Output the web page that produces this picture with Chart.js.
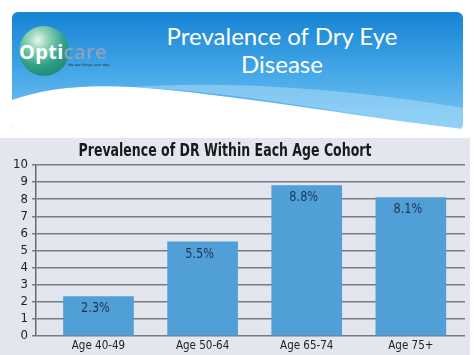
<!DOCTYPE html>
<html><head><meta charset="utf-8">
<script src="https://cdn.jsdelivr.net/npm/chart.js@4"></script>
<style>
html,body{margin:0;padding:0;background:#fff;width:474px;height:355px;overflow:hidden;position:relative}
#banner{position:absolute;left:12px;top:12px;width:451px;height:118px;border-radius:6px;overflow:hidden;
 background:linear-gradient(180deg,#1783d3 0%,#3ea3e6 45%,#7cc8f3 100%)}
#wave{position:absolute;left:0;top:0}
#title{position:absolute;left:140px;width:284px;top:22px;text-align:center;color:#fff;
 font-family:Lato,"Open Sans",sans-serif;font-size:24px;line-height:28px}
#logo{position:absolute;left:19px;top:26px;width:50px;height:50px;border-radius:50%;
 background:radial-gradient(circle at 38% 28%,#e6f7ef 0%,#8fd3b7 22%,#2f9f86 55%,#17776d 100%)}
#opti{position:absolute;left:19px;top:38px;font-family:"Open Sans",sans-serif;font-weight:700;font-size:20px;color:#fff;letter-spacing:0.3px}
#opti span{color:#8aa2bd;font-weight:600}
#tag{position:absolute;left:68px;top:63px;font-family:"DejaVu Sans",sans-serif;font-size:3.5px;color:#333}
#panel{position:absolute;left:0;top:138px;width:470px;height:217px;background:#e3e6ee}
#wrap{position:absolute;left:0;top:138px;width:474px;height:217px}
</style></head>
<body>
<div id="banner">
<svg id="wave" width="451" height="118" viewBox="0 0 451 118">
<path d="M110,76 C220,66 360,80 451,96 L451,118 C330,102 230,80 130,76 Z" fill="#a8dbf7" opacity="0.55"/>
<path d="M0,88 C30,77 70,72 120,75 C220,82 340,104 451,117 L451,118 L0,118 Z" fill="#ffffff"/>
</svg>
</div>
<div id="logo"></div>
<div id="opti">Opti<span>care</span></div>
<div id="tag">We see things your way</div>
<div id="title">Prevalence of Dry Eye<br>Disease</div>
<div id="panel"></div>
<div id="wrap"><canvas id="c" width="474" height="217"></canvas></div>
<script>
const categories = ["Age 40-49", "Age 50-64", "Age 65-74", "Age 75+"];
const prevalence = [2.3, 5.5, 8.8, 8.1];
const valueLabels = ["2.3%", "5.5%", "8.8%", "8.1%"];
const yTicks = [0,1,2,3,4,5,6,7,8,9,10];
const chartTitle = 'Prevalence of DR Within Each Age Cohort';

const narrow = '"Liberation Sans Narrow","DejaVu Sans Condensed","Arial Narrow",sans-serif';

const labelPlugin = {
  id: 'barLabels',
  afterDatasetsDraw(chart) {
    const ctx = chart.ctx;
    const meta = chart.getDatasetMeta(0);
    ctx.save();
    ctx.font = '14px ' + narrow;
    ctx.fillStyle = '#1d3554';
    ctx.textAlign = 'center';
    ctx.textBaseline = 'middle';
    meta.data.forEach((bar, i) => {
      ctx.save();
      ctx.translate(bar.x - 3, bar.y + 12);
      ctx.scale(0.9, 1);
      ctx.fillText(valueLabels[i], 0, 0);
      ctx.restore();
    });
    ctx.restore();
  }
};

const titlePlugin = {
  id: 'condTitle',
  afterDraw(chart) {
    const ctx = chart.ctx;
    ctx.save();
    ctx.font = 'bold 17px ' + narrow;
    ctx.fillStyle = '#1a1a1a';
    ctx.textAlign = 'center';
    ctx.textBaseline = 'middle';
    ctx.translate(225, 14);
    ctx.scale(0.82, 1);
    ctx.fillText(chartTitle, 0, 0);
    ctx.restore();
  }
};

new Chart(document.getElementById('c'), {
  type: 'bar',
  data: {
    datasets: [{
      data: prevalence.map((v, i) => ({x: i, y: v})),
      backgroundColor: '#519fd7',
      borderWidth: 0,
      barThickness: 70
    }]
  },
  options: {
    responsive: false,
    animation: false,
    events: [],
    layout: {padding: {left: 0, right: 9, top: 27, bottom: 0}},
    plugins: {
      legend: {display: false},
      tooltip: {enabled: false},
      title: {display: false}
    },
    scales: {
      x: {
        type: 'linear',
        offset: false,
        min: -0.6,
        max: 3.52,
        afterBuildTicks: s => { s.ticks = categories.map((_, i) => ({value: i})); },
        afterFit: s => { s.height = 19; },
        grid: {display: false, drawTicks: false, offset: false},
        border: {display: false},
        ticks: {
          callback: v => categories[v] || '',
          color: '#222',
          font: {family: narrow, size: 11.5},
          maxRotation: 0,
          autoSkip: false,
          padding: 3
        }
      },
      y: {
        min: 0,
        max: 10,
        afterBuildTicks: s => { s.ticks = yTicks.map(v => ({value: v})); },
        afterFit: s => { s.width = 36; },
        grid: {color: '#767b84', lineWidth: 1.5, tickLength: 4, drawTicks: true},
        border: {display: true, color: '#666a72', width: 1.5},
        ticks: {
          color: '#222',
          font: {family: narrow, size: 13},
          padding: 4,
          autoSkip: false
        }
      }
    }
  },
  plugins: [labelPlugin, titlePlugin]
});
</script>
</body></html>
